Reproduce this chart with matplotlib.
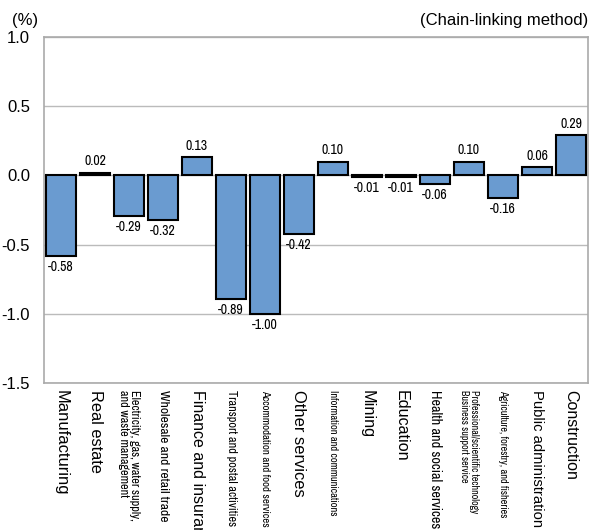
import numpy as np
import matplotlib.pyplot as plt
from matplotlib import font_manager

# 業種別の寄与度
categories = [
    "Manufacturing",
    "Real estate",
    "Electricity, gas, water supply,\nand waste management",
    "Wholesale and retail trade",
    "Finance and insurance",
    "Transport and postal activities",
    "Accommodation and food services",
    "Other services",
    "Information and communications",
    "Mining",
    "Education",
    "Health and social services",
    "Professional/scientific technology\nBusiness support service",
    "Agriculture, forestry, and fisheries",
    "Public administration",
    "Construction",
]
values = [-0.58, 0.02, -0.29, -0.32, 0.13, -0.89, -1.00, -0.42,
          0.10, -0.01, -0.01, -0.06, 0.10, -0.16, 0.06, 0.29]
yticks = [-1.5, -1.0, -0.5, 0.0, 0.5, 1.0]

# ラベルの長さ(px)。Noneは標準サイズ、narrow=細字
label_len = [105, 83, 130, 130, None, 135, 137, 107, 127, 48, 72, 137, 123, 127, 137, 90]
narrow_lbl = [False, False, True, True, False, True, True, False,
              True, False, False, True, True, True, False, False]

names = {f.name for f in font_manager.fontManager.ttflist}
narrow = "Liberation Sans"
for cand in ["Liberation Sans Narrow", "Arial Narrow", "Archivo Narrow", "PT Sans Narrow",
             "Roboto Condensed", "Open Sans Condensed", "Fira Sans Condensed"]:
    if cand in names:
        narrow = cand
        break

plt.rcParams['font.family'] = ['Liberation Sans', 'DejaVu Sans']

fig = plt.figure(figsize=(5.9, 5.3), dpi=100)
ax = fig.add_axes([44 / 590, 1 - 383 / 530, 544 / 590, 346 / 530])

x = np.arange(len(values))
ax.bar(x, values, width=0.9, color="#6A9BD0", edgecolor="black", linewidth=1.5, zorder=3)

ax.set_ylim(-1.5, 1.0)
ax.set_xlim(-0.5, len(values) - 0.5)
ax.set_yticks(yticks)
ax.set_yticklabels([f"{v:.1f}" for v in yticks], fontsize=12)
ax.yaxis.grid(True, color="#BBBBBB", linewidth=1, zorder=0)
ax.tick_params(axis="y", length=0, pad=10)
for s in ax.spines.values():
    s.set_color("#AAAAAA")
    s.set_linewidth(1.2)

ax.set_xticks(x)
ax.set_xticklabels([])
ax.tick_params(axis="x", length=0)

# 縦書きの業種名
labels = []
for i, name in enumerate(categories):
    t = ax.annotate(name, (i, -1.5), xytext=(0, -5), textcoords="offset points",
                    rotation=-90, ha="center", va="top", fontsize=11.5,
                    multialignment="left",
                    family=[narrow] if narrow_lbl[i] else ['Liberation Sans'],
                    annotation_clip=False, linespacing=0.95)
    labels.append(t)

fig.canvas.draw()
r = fig.canvas.get_renderer()
for t, L in zip(labels, label_len):
    if L is None:
        continue
    h = t.get_window_extent(r).height
    t.set_fontsize(11.5 * L / h)

# 数値ラベル
for i, v in enumerate(values):
    if v >= 0:
        ax.annotate(f"{v:.2f}", (i, v), xytext=(0, 3), textcoords="offset points",
                    ha="center", va="bottom", fontsize=10, family=[narrow])
    else:
        ax.annotate(f"{v:.2f}", (i, v), xytext=(0, -3), textcoords="offset points",
                    ha="center", va="top", fontsize=10, family=[narrow])

fig.text(12 / 590, 1 - 20 / 530, "(%)", fontsize=12, va="center")
fig.text(588 / 590, 1 - 20 / 530, "(Chain-linking method)", fontsize=12, va="center", ha="right")

fig.savefig("out.png", dpi=100)
